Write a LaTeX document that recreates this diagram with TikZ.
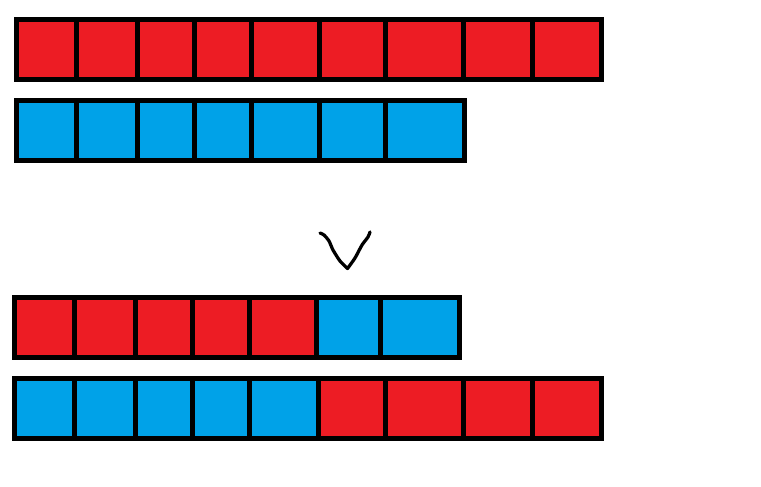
\documentclass[tikz,border=0pt]{standalone}
\usepackage{tikz}
\usetikzlibrary{positioning}
\definecolor{paintRed}{HTML}{ED1C24}
\definecolor{paintBlue}{HTML}{00A2E8}

\begin{document}
\begin{tikzpicture}[x=0.02cm,y=-0.02cm,
    cell/.style={draw=black,line width=0.1cm,inner sep=0pt,minimum height=1.2cm,line join=miter}]
  \useasboundingbox (0,0) rectangle (761,487);
  \foreach \a/\b [count=\i] in {16.5/76.5,76.5/137.5,137.5/194.5,194.5/251.5,251.5/319.5,319.5/385.5,385.5/463.5,463.5/532.5,532.5/601.5}
    \node[cell,fill=paintRed,minimum width={(\b-\a)*0.02cm}] (parA\i) at ({(\a+\b)/2},49.5) {};
  \foreach \a/\b [count=\i] in {16.5/76.5,76.5/137.5,137.5/194.5,194.5/251.5,251.5/319.5,319.5/385.5,385.5/464}
    \node[cell,fill=paintBlue,minimum width={(\b-\a)*0.02cm}] (parB\i) at ({(\a+\b)/2},130.5) {};
  \foreach \a/\b/\c [count=\i] in {14.5/74.5/paintRed,74.5/135.5/paintRed,135.5/192.5/paintRed,192.5/249.5/paintRed,249.5/316/paintRed,316/380.5/paintBlue,380.5/459.5/paintBlue}
    \node[cell,fill=\c,minimum width={(\b-\a)*0.02cm}] (kidA\i) at ({(\a+\b)/2},327.5) {};
  \foreach \a/\b/\c [count=\i] in {14.5/74.5/paintBlue,74.5/135.5/paintBlue,135.5/192.5/paintBlue,192.5/249.5/paintBlue,249.5/318.5/paintBlue,318.5/385.5/paintRed,385.5/463.5/paintRed,463.5/532.5/paintRed,532.5/601.5/paintRed}
    \node[cell,fill=\c,minimum width={(\b-\a)*0.02cm}] (kidB\i) at ({(\a+\b)/2},408.5) {};
  \draw[line width=0.065cm,line cap=round,line join=round] plot[smooth,tension=0.4] coordinates
    {(320,233) (324,235) (329,241) (333,250) (340,261) (347.5,268.5)}
    -- plot[smooth,tension=0.4] coordinates {(347.5,268.5) (355,258) (362,245) (368,237) (370,232)};
\end{tikzpicture}
\end{document}
